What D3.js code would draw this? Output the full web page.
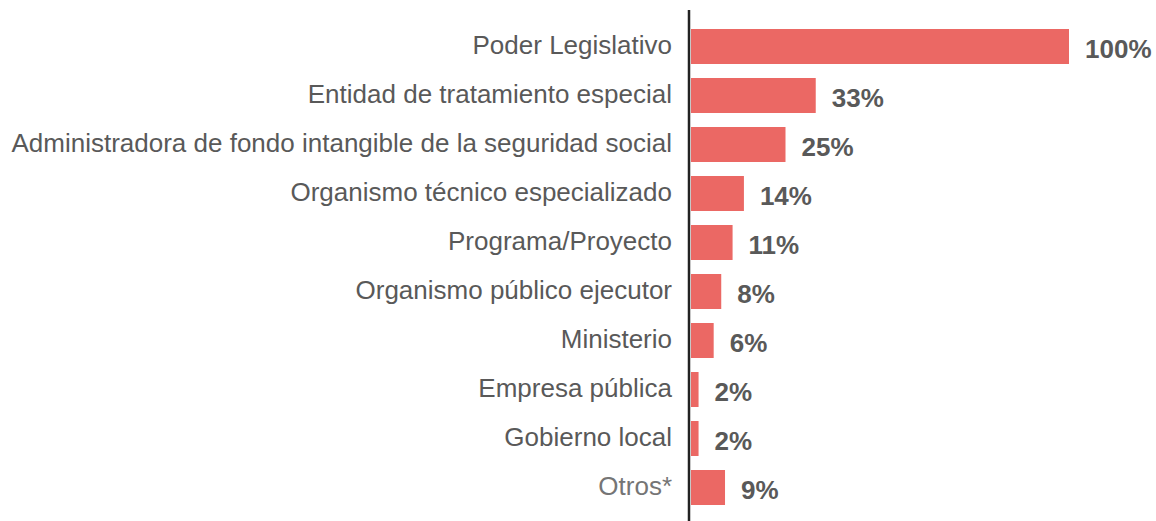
<!DOCTYPE html>
<html>
<head>
<meta charset="utf-8">
<script src="https://cdn.jsdelivr.net/npm/d3@7"></script>
<style>
  html, body { margin: 0; padding: 0; background: #fff; }
  svg { display: block; }
</style>
</head>
<body>
<svg id="chart" width="1156" height="521"></svg>
<script>
const categories = [
  "Poder Legislativo",
  "Entidad de tratamiento especial",
  "Administradora de fondo intangible de la seguridad social",
  "Organismo técnico especializado",
  "Programa/Proyecto",
  "Organismo público ejecutor",
  "Ministerio",
  "Empresa pública",
  "Gobierno local",
  "Otros*"
];
const values = [100, 33, 25, 14, 11, 8, 6, 2, 2, 9];
const valueLabels = ["100%", "33%", "25%", "14%", "11%", "8%", "6%", "2%", "2%", "9%"];

const W = 1156, H = 521;
const axisX = 689;
const svg = d3.select("#chart");

const x = d3.scaleLinear().domain([0, 100]).range([axisX + 2, 1069]);
const y = d3.scaleBand().domain(categories).range([22, 22 + 49 * 10]).paddingInner(0.286).paddingOuter(0.143);

const font = "'Liberation Sans', Arial, Helvetica, sans-serif";

svg.append("g").selectAll("rect")
  .data(categories)
  .join("rect")
  .attr("x", x(0))
  .attr("y", d => y(d))
  .attr("width", (d, i) => x(values[i]) - x(0))
  .attr("height", y.bandwidth())
  .attr("fill", "#eb6864");

svg.append("g").selectAll("text")
  .data(categories)
  .join("text")
  .attr("x", axisX - 17)
  .attr("y", d => y(d) + y.bandwidth() / 2)
  .attr("dy", "0.3em")
  .attr("text-anchor", "end")
  .attr("font-family", font)
  .attr("font-size", 26)
  .attr("fill", d => d === "Otros*" ? "#757575" : "#595959")
  .text(d => d);

svg.append("g").selectAll("text")
  .data(categories)
  .join("text")
  .attr("x", (d, i) => x(values[i]) + 16)
  .attr("y", d => y(d) + y.bandwidth() / 2 + 2)
  .attr("dy", "0.35em")
  .attr("text-anchor", "start")
  .attr("font-family", font)
  .attr("font-size", 26)
  .attr("font-weight", "bold")
  .attr("fill", "#595959")
  .text((d, i) => valueLabels[i]);

svg.append("line")
  .attr("x1", axisX).attr("x2", axisX)
  .attr("y1", 10).attr("y2", H)
  .attr("stroke", "#222")
  .attr("stroke-width", 2.5);
</script>
</body>
</html>
